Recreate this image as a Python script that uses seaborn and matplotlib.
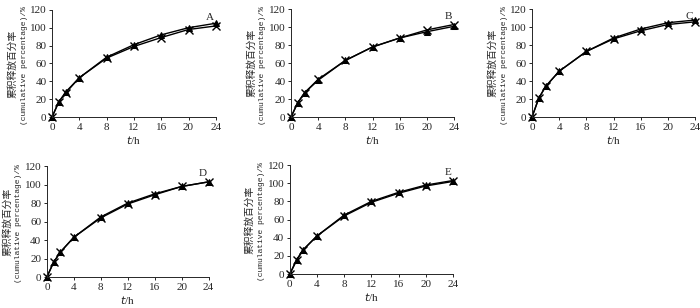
import numpy as np
import pandas as pd
from matplotlib import pyplot as plt
import seaborn as sns

hours = [0, 1, 2, 4, 8, 12, 16, 20, 24]

a_tri = [0, 17, 28, 44, 67, 81, 92, 100, 105]
a_x = [0, 17, 27, 44, 66, 79, 89, 98, 102]
b_tri = [0, 16, 27, 41, 63, 78, 88, 95, 101]
b_x = [0, 16, 27, 42, 63, 78, 88, 97, 103]
c_tri = [0, 21, 34, 51, 73, 88, 98, 105, 108]
c_x = [0, 21, 34, 51, 73, 87, 96, 103, 106]
d_tri = [0, 16, 27, 43, 65, 80, 90, 98, 103]
d_x = [0, 16, 27, 43, 64, 79, 89, 98, 103]
e_tri = [0, 16, 27, 42, 65, 80, 90, 98, 103]
e_x = [0, 15, 27, 42, 64, 79, 89, 97, 102]

panel_labels = ['A', 'B', 'C', 'D', 'E']
xticks = [0, 4, 8, 12, 16, 20, 24]
yticks = [0, 20, 40, 60, 80, 100, 120]
ylabel_cn = '累积释放百分率'
ylabel_en = '(cumulative percentage)/%'

sns.set_style('ticks')
plt.rcParams['font.family'] = ['Liberation Serif', 'Noto Sans CJK SC', 'DejaVu Sans']

# axes rectangles in figure fractions (left, bottom, width, height)
rects = [
    (0.0743, 0.620, 0.234, 0.348),
    (0.4157, 0.620, 0.233, 0.350),
    (0.760, 0.620, 0.233, 0.350),
    (0.067, 0.1006, 0.231, 0.360),
    (0.414, 0.110, 0.233, 0.354),
]
series = [(a_tri, a_x), (b_tri, b_x), (c_tri, c_x), (d_tri, d_x), (e_tri, e_x)]

fig = plt.figure(figsize=(7, 3.08), dpi=100)
for rect, (tri, xs), lab in zip(rects, series, panel_labels):
    ax = fig.add_axes(rect)
    df = pd.DataFrame({'t': hours, 'tri': tri, 'x': xs})
    sns.lineplot(data=df, x='t', y='tri', ax=ax, color='black', lw=1.0,
                 marker='^', markersize=4.8, markeredgecolor='black',
                 markerfacecolor='black', clip_on=False)
    sns.lineplot(data=df, x='t', y='x', ax=ax, color='black', lw=1.0,
                 marker='x', markersize=6, markeredgewidth=1.0,
                 markeredgecolor='black', clip_on=False)
    ax.set_xlim(0, 24)
    ax.set_ylim(0, 120)
    ax.set_xticks(xticks)
    ax.set_yticks(yticks)
    ax.tick_params(labelsize=8, length=2.5, width=0.7, pad=1.5)
    for s in ['left', 'bottom']:
        ax.spines[s].set_linewidth(0.7)
    sns.despine(ax=ax)
    ax.set_xlabel('$t$/h', fontsize=8, labelpad=2)
    ax.set_ylabel('')
    w_px = rect[2] * 700
    ax.text(-40 / w_px, 0.5, ylabel_cn, transform=ax.transAxes, rotation=90,
            ha='center', va='center', fontsize=7,
            family=['Noto Sans CJK SC', 'DejaVu Sans'])
    ax.text(-28 / w_px, 0.48, ylabel_en, transform=ax.transAxes, rotation=90,
            ha='center', va='center', fontsize=5.8, family=['Liberation Mono'])
    ax.text(0.99, 0.97, lab, transform=ax.transAxes, ha='right', va='top',
            fontsize=8)

plt.savefig('out.png', dpi=100)
